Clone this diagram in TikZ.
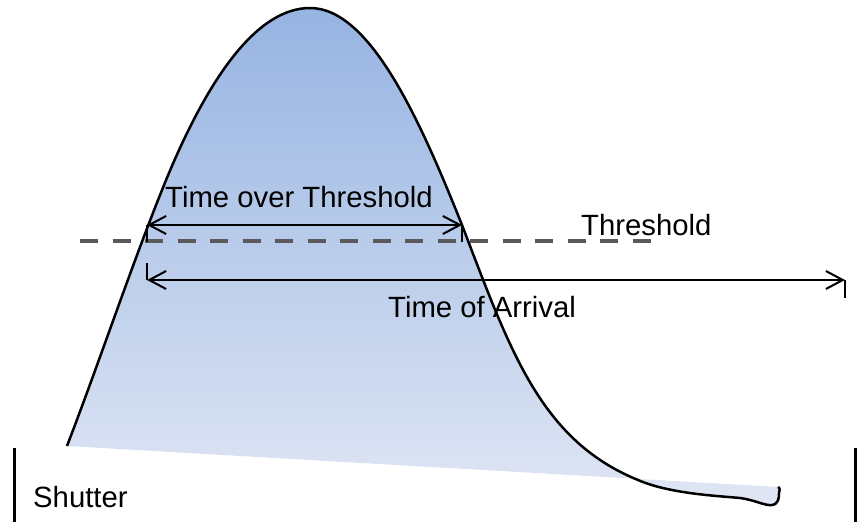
\documentclass[tikz,border=0pt]{standalone}
\usepackage{fontspec}
\setmainfont{Liberation Sans}
\usetikzlibrary{arrows.meta}
\definecolor{shtop}{RGB}{150,180,226}
\definecolor{shbot}{RGB}{224,230,244}
\definecolor{thrgray}{RGB}{90,90,90}
\tikzset{
  lbl/.style={inner sep=0pt, anchor=base west, font=\fontsize{29.3}{31}\selectfont},
  dimarrow/.style={line width=2pt, {Straight Barb[length=17pt,width=18pt]}-{Straight Barb[length=17pt,width=18pt]}},
  tick/.style={line width=2.5pt},
  pulse/.style={line width=2.5pt, line join=round},
  thrline/.style={line width=4pt, draw=thrgray, dash pattern=on 18pt off 14.5pt},
  shutbar/.style={line width=3pt}
}
\begin{document}
\begin{tikzpicture}[x=1pt,y=-1pt]
\useasboundingbox (0,0) rectangle (862,522);
% filled pulse
\shade[top color=shtop, bottom color=shbot]
  (67,446) .. controls (100,360) and (130,270) .. (162,190)
  .. controls (210,70) and (260,8) .. (310,8)
  .. controls (370,8) and (420,120) .. (462,225)
  .. controls (510,350) and (540,440) .. (638,480)
  .. controls (670,494) and (720,496) .. (740,498)
  .. controls (755,500) and (765,506) .. (772,505)
  .. controls (779,504) and (779,497) .. (779,493)
  .. controls (779,490) and (781,489) .. (778,487) -- cycle;
\draw[pulse]
  (67,446) .. controls (100,360) and (130,270) .. (162,190)
  .. controls (210,70) and (260,8) .. (310,8)
  .. controls (370,8) and (420,120) .. (462,225)
  .. controls (510,350) and (540,440) .. (638,480)
  .. controls (670,494) and (720,496) .. (740,498)
  .. controls (755,500) and (765,506) .. (772,505)
  .. controls (779,504) and (779,497) .. (779,493)
  .. controls (779,490) and (781,489) .. (778,487);
% threshold
\coordinate (thrA) at (80,241);
\coordinate (thrB) at (654,241);
\draw[thrline] (thrA) -- (thrB);
% time over threshold
\coordinate (totL) at (147,225);
\coordinate (totR) at (462,225);
\coordinate (totLt) at (147,242);
\coordinate (totRt) at (462,242);
\draw[tick] (totL) -- (totLt);
\draw[tick] (totR) -- (totRt);
\draw[dimarrow] (totL) -- (totR);
% time of arrival
\coordinate (toaL) at (147,280);
\coordinate (toaR) at (845,280);
\coordinate (toaLt) at (147,263);
\coordinate (toaRt) at (845,298);
\draw[tick] (toaLt) -- (toaL);
\draw[tick] (toaR) -- (toaRt);
\draw[dimarrow] (toaL) -- (toaR);
% shutter bars
\coordinate (sl1) at (14,448);
\coordinate (sl2) at (14,522);
\coordinate (sr1) at (855,448);
\coordinate (sr2) at (855,522);
\draw[shutbar] (sl1) -- (sl2);
\draw[shutbar] (sr1) -- (sr2);
% labels
\node[lbl] (tot) at (165,207) {Time over Threshold};
\node[lbl] (thr) at (581,235) {Threshold};
\node[lbl] (toa) at (388,317) {Time of Arrival};
\node[lbl] (sh) at (33,507) {Shutter};
\end{tikzpicture}
\end{document}
